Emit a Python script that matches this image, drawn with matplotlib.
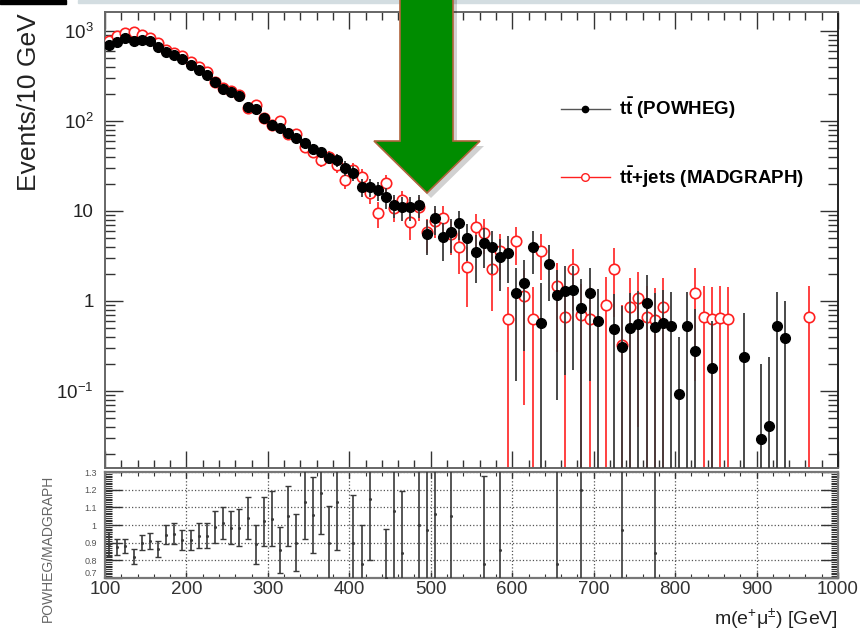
import numpy as np
import matplotlib
matplotlib.use('Agg')
import matplotlib.pyplot as plt
from matplotlib.ticker import FixedLocator, MultipleLocator, NullFormatter, LogLocator
from matplotlib.lines import Line2D
from matplotlib.patches import Polygon, Rectangle

plt.rcParams['font.family'] = ['Liberation Sans', 'DejaVu Sans']
plt.rcParams['mathtext.fontset'] = 'custom'
plt.rcParams['mathtext.rm'] = 'Liberation Sans'
plt.rcParams['mathtext.it'] = 'Liberation Sans:italic'
plt.rcParams['mathtext.bf'] = 'Liberation Sans:bold'

# POWHEG (black, filled) - bin centres [GeV], events / 10 GeV, error
pow_x = [105, 115, 125, 135, 145, 155, 165, 175, 185, 195, 205, 215, 225, 235, 245,
         255, 265, 275, 285, 295, 305, 315, 325, 335, 345, 355, 365, 375, 385,
         395, 405, 415, 425, 435, 445, 455, 465, 475, 485, 495, 505, 515, 525, 535,
         545, 555, 565, 575, 585, 595, 605, 615, 625, 635, 645, 655, 665, 675, 685,
         695, 705, 725, 735, 745, 755, 765, 775, 785, 795, 805, 815, 825, 845, 885,
         905, 915, 925, 935]
pow_y = [700, 755, 830, 776, 794, 776, 664, 584, 541, 490, 419, 369, 324, 271, 227,
         210, 190, 143, 136, 108, 90, 84, 74, 65, 57, 49, 45, 39, 37,
         30, 26.4, 18.5, 18.5, 17.1, 14.3, 11.7, 11.1, 11.1, 11.7, 5.6, 8.3, 5.1, 5.8, 7.4,
         5.0, 3.5, 4.4, 4.0, 3.1, 3.4, 1.23, 1.58, 4.0, 0.57, 2.6, 1.15, 1.29, 1.31, 0.84,
         1.23, 0.60, 0.49, 0.31, 0.50, 0.55, 0.95, 0.51, 0.57, 0.53, 0.093, 0.53, 0.28, 0.18, 0.24,
         0.029, 0.041, 0.53, 0.39]
pow_err = [26.5, 27.5, 28.8, 27.9, 28.2, 27.9, 25.8, 24.2, 23.3, 22.1, 20.5, 19.2, 18, 16.5, 15.1,
           14.5, 13.8, 12, 11.7, 10.4, 9.5, 9.2, 8.6, 8.1, 7.5, 7, 6.7, 6.2, 6.1,
           5.5, 5.1, 4.3, 4.3, 4.1, 3.8, 3.4, 3.3, 3.3, 3.4, 2.4, 2.9, 2.3, 2.4, 2.7,
           2.2, 1.9, 2.1, 2.0, 1.8, 1.8, 1.1, 1.3, 2.0, 1.0, 1.6, 1.07, 1.14, 1.14, 0.92,
           1.1, 0.77, 0.7, 0.56, 0.71, 0.74, 0.97, 0.71, 0.75, 0.73, 0.3, 0.73, 0.53, 0.42, 0.49,
           0.17, 0.2, 0.73, 0.62]

# MADGRAPH (red, open)
mad_x = [105, 115, 125, 135, 145, 155, 165, 175, 185, 195, 205, 215, 225, 235, 245,
         255, 265, 275, 285, 295, 305, 315, 325, 335, 345, 355, 365, 375, 385,
         395, 405, 415, 425, 435, 445, 455, 465, 475, 485, 495, 505, 515, 525, 535,
         545, 555, 565, 575, 585, 595, 605, 615, 625, 635,
         655, 665, 675, 685, 695, 715, 725, 735, 745, 755, 765, 775, 785,
         825, 835, 845, 855, 865, 965]
mad_y = [770, 880, 945, 970, 900, 840, 740, 620, 570, 530, 455, 395, 350, 273, 230,
         214, 194, 140, 150, 108, 90, 99, 72, 71, 51, 45, 37, 40, 32,
         22, 28.5, 24, 15.8, 9.5, 20.4, 10.8, 13.2, 7.5, 11, 5.8, 7.8, 8.4, 5.5, 4.0,
         2.4, 6.6, 5.7, 2.27, 3.6, 0.63, 4.6, 1.14, 0.63, 3.6,
         1.47, 0.66, 2.27, 0.70, 0.63, 0.9, 2.27, 0.32, 0.86, 1.08, 0.66, 0.61, 0.86,
         1.23, 0.66, 0.63, 0.65, 0.63, 0.66]
mad_err = [27.7, 29.7, 30.7, 31.1, 30, 29, 27.2, 24.9, 23.9, 23, 21.3, 19.9, 18.7, 16.5, 15.2,
           14.6, 13.9, 11.8, 12.2, 10.4, 9.5, 9.9, 8.5, 8.4, 7.1, 6.7, 6.1, 6.3, 5.7,
           4.7, 5.3, 4.9, 4.0, 3.1, 4.5, 3.3, 3.6, 2.7, 3.3, 2.4, 2.8, 2.9, 2.3, 2.0,
           1.55, 2.6, 2.4, 1.5, 1.9, 0.8, 2.1, 1.07, 0.8, 1.9,
           1.2, 0.81, 1.5, 0.84, 0.8, 0.95, 1.6, 0.57, 0.93, 1.04, 0.81, 0.78, 0.93,
           1.1, 0.81, 0.8, 0.81, 0.8, 0.81]

# ratio POWHEG / MADGRAPH
rat_x = [105, 115, 125, 135, 145, 155, 165, 175, 185, 195, 205, 215, 225, 235, 245,
         255, 265, 275, 285, 295, 305, 315, 325, 335, 345, 355, 365, 375, 385,
         405, 415, 425, 445, 455, 465, 485, 495, 505, 525, 565, 585, 655, 685, 735, 775]
rat_y = [0.895, 0.875, 0.88, 0.82, 0.90, 0.91, 0.865, 0.945, 0.95, 0.915, 0.915, 0.94, 0.94,
         0.99, 1.01, 0.985, 0.985, 1.04, 0.89, 1.02, 1.035, 0.86, 1.05, 0.90, 1.13, 1.055,
         1.18, 0.90, 1.13, 0.90, 0.78, 1.15, 0.70, 1.08, 0.84, 1.0, 0.97, 1.06, 1.05, 0.78,
         0.86, 0.78, 1.2, 0.97, 0.84]
rat_err = [0.068, 0.045, 0.04, 0.042, 0.042, 0.047, 0.045, 0.053, 0.06, 0.055, 0.055, 0.07,
           0.07, 0.09, 0.09, 0.095, 0.105, 0.12, 0.11, 0.14, 0.155, 0.13, 0.17, 0.16, 0.21,
           0.215, 0.23, 0.21, 0.27, 0.27, 0.22, 0.35, 0.28, 0.45, 0.35, 0.4, 0.5, 0.6, 0.55,
           0.5, 0.6, 0.7, 0.7, 1.0, 0.8]

y_ticks = [0.1, 1, 10, 100, 1000]
y_ticklabels = ['$10^{-1}$', '1', '10', '$10^{2}$', '$10^{3}$']
r_ticks = [0.7, 0.8, 0.9, 1.0, 1.1, 1.2, 1.3]
r_ticklabels = ['0.7', '0.8', '0.9', '1', '1.1', '1.2', '1.3']
x_ticks = [100, 200, 300, 400, 500, 600, 700, 800, 900, 1000]

YMIN, YMAX = 0.0139, 1620

fig = plt.figure(figsize=(8.6, 6.34), dpi=100)
ax = fig.add_axes([0.1221, 0.2618, 0.8523, 0.7192])
axr = fig.add_axes([0.1221, 0.0883, 0.8523, 0.1672])

ax.set_yscale('log')

# red first, black on top
mx, my, me = np.array(mad_x), np.array(mad_y), np.array(mad_err)
ax.vlines(mx, np.maximum(my - me, 1e-4), my + me, color='#ff2020', lw=1.2, zorder=2)
ax.plot(mx, my, 'o', ms=7.5, mfc='white', mec='#ff2020', mew=1.2, zorder=3)

px, py, pe = np.array(pow_x), np.array(pow_y), np.array(pow_err)
ax.vlines(px, np.maximum(py - pe, 1e-4), py + pe, color='#3a3a3a', lw=1.3, zorder=4)
ax.plot(px, py, 'o', ms=7, color='black', zorder=5)

ax.set_xlim(100, 1000)
ax.set_ylim(YMIN, YMAX)
ax.yaxis.set_major_locator(FixedLocator(y_ticks))
ax.set_yticklabels(y_ticklabels)
ax.yaxis.set_minor_locator(LogLocator(base=10, subs=range(2, 10), numticks=20))
ax.yaxis.set_minor_formatter(NullFormatter())
ax.xaxis.set_major_locator(MultipleLocator(100))
ax.xaxis.set_minor_locator(MultipleLocator(20))
ax.tick_params(axis='both', which='both', direction='in', top=True, right=True,
               labelbottom=False, color='#333')
ax.tick_params(axis='y', which='major', length=13, width=1, labelsize=13.5, pad=8,
               labelcolor='#222')
ax.tick_params(axis='y', which='minor', length=7, width=1)
ax.tick_params(axis='x', which='major', length=12, width=1)
ax.tick_params(axis='x', which='minor', length=5.5, width=1)
for s in ax.spines.values():
    s.set_color('#666')
    s.set_linewidth(1.4)
ax.spines['right'].set_color('#222')

ax.set_ylabel('Events/10 GeV', fontsize=19, loc='top', color='#222')
ax.yaxis.set_label_coords(-0.088, 0.998)

handles = [Line2D([], [], color='#555', lw=1, marker='o', ms=4.5, mfc='black', mec='black'),
           Line2D([], [], color='#ff2020', lw=1, marker='o', ms=5.5, mfc='white', mec='#ff2020')]
labels = [r'$\mathbf{t\bar{t}}$ (POWHEG)', r'$\mathbf{t\bar{t}}$+jets (MADGRAPH)']
ax.legend(handles, labels, loc='upper left', bbox_to_anchor=(0.622, 0.815), frameon=False,
          handlelength=2.6, handletextpad=0.5, labelspacing=2.3, borderpad=0,
          borderaxespad=0, prop={'weight': 'bold', 'size': 13.5})

# ratio panel
axr.errorbar(rat_x, rat_y, yerr=rat_err, fmt='o', ms=1.2, color='#3a3a3a', ecolor='#3a3a3a',
             elinewidth=1.2, capsize=2.2, capthick=1.0, zorder=3)
axr.set_xlim(100, 1000)
axr.set_ylim(0.7, 1.3)
axr.xaxis.set_major_locator(FixedLocator(x_ticks))
axr.xaxis.set_minor_locator(MultipleLocator(20))
axr.yaxis.set_major_locator(FixedLocator(r_ticks))
axr.set_yticklabels(r_ticklabels)
axr.get_yticklabels()[0].set_va('bottom')
axr.yaxis.set_minor_locator(MultipleLocator(0.01))
axr.grid(True, which='major', linestyle=':', color='#555', lw=0.9)
axr.tick_params(axis='both', which='both', direction='in', top=True, right=True, color='#333')
axr.tick_params(axis='y', which='major', length=12, width=1, labelsize=6.5, pad=6,
                labelcolor='#555')
axr.tick_params(axis='y', which='minor', length=5, width=0.8)
axr.tick_params(axis='x', which='major', length=4, width=1, labelsize=13.5, pad=2.5,
                labelcolor='#333')
axr.tick_params(axis='x', which='minor', length=3, width=0.8)
for s in axr.spines.values():
    s.set_color('#777')
    s.set_linewidth(1.6)

axr.set_xlabel(r'm(e$^{+}$μ$^{\pm}$) [GeV]', fontsize=14, loc='right', color='#222')
axr.xaxis.set_label_coords(1.0, -0.27)
fig.text(48 / 860, 1 - 548 / 634, 'POWHEG/MADGRAPH', rotation=90, ha='center', va='center',
         fontsize=10, color='#666')

# screenshot strip along the top edge
fig.patches.append(Rectangle((0, 1 - 4 / 634), 66 / 860, 4 / 634, transform=fig.transFigure,
                             color='black', zorder=10))
fig.patches.append(Rectangle((78 / 860, 1 - 3 / 634), 782 / 860, 3 / 634,
                             transform=fig.transFigure, color='#d3dde1', zorder=10))

# green arrow annotation (pixel outline -> figure fraction)
arrow_px = [(400, -5), (453, -5), (453, 141), (480, 141), (427, 193), (374, 141), (400, 141)]


def to_fig(pts, dx=0, dy=0):
    return [((x + dx) / 860, 1 - (y + dy) / 634) for x, y in pts]


fig.patches.append(Polygon(to_fig(arrow_px, 4, 5), closed=True, transform=fig.transFigure,
                           facecolor='#000000', alpha=0.18, edgecolor='none', zorder=11))
fig.patches.append(Polygon(to_fig(arrow_px), closed=True, transform=fig.transFigure,
                           facecolor='#008c00', edgecolor='#b0643c', lw=1.2, zorder=12))

fig.savefig('out.png', dpi=100, facecolor='white')
